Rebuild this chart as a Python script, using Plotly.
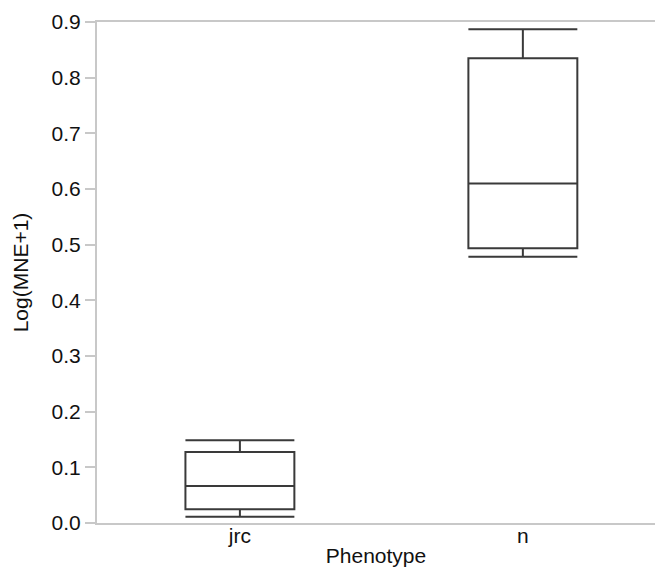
import plotly.graph_objects as go

categories = ["jrc", "n"]
lower_whisker = [0.0113, 0.4784]
q1_values = [0.0246, 0.4934]
medians = [0.0665, 0.610]
q3_values = [0.1275, 0.835]
upper_whisker = [0.1485, 0.887]
y_ticks = [0.0, 0.1, 0.2, 0.3, 0.4, 0.5, 0.6, 0.7, 0.8, 0.9]

fig = go.Figure()
fig.add_trace(go.Box(
    x=categories,
    q1=q1_values,
    median=medians,
    q3=q3_values,
    lowerfence=lower_whisker,
    upperfence=upper_whisker,
    width=0.385,
    whiskerwidth=1,
    fillcolor="rgba(255,255,255,0)",
    line=dict(color="#3a3a3a", width=2),
    boxpoints=False,
    showlegend=False,
    hoverinfo="skip",
))

axis_font = dict(family="Liberation Sans, Arial, Helvetica, sans-serif", size=21, color="#111111")

fig.update_layout(
    width=655,
    height=567,
    margin=dict(l=97, r=0, t=22, b=44, autoexpand=False),
    paper_bgcolor="white",
    plot_bgcolor="white",
    font=axis_font,
    xaxis=dict(
        type="category",
        range=[-0.505, 1.467],
        showline=True,
        linecolor="#c8c8c8",
        linewidth=2,
        mirror=True,
        ticks="",
        showgrid=False,
        zeroline=False,
        automargin=False,
        ticklabelstandoff=-7,
        tickfont=axis_font,
        title=dict(text="Phenotype", font=axis_font, standoff=3),
    ),
    yaxis=dict(
        range=[0, 0.9],
        tickvals=y_ticks,
        tickformat=".1f",
        showline=True,
        linecolor="#c8c8c8",
        linewidth=2,
        ticks="outside",
        ticklen=10,
        tickwidth=2,
        tickcolor="#c8c8c8",
        showgrid=False,
        zeroline=False,
        automargin=False,
        tickfont=axis_font,
        title=dict(text="Log(MNE+1)", font=axis_font, standoff=17),
    ),
)

fig.write_html(
    "out.html",
    config={"displayModeBar": False},
    post_script="document.body.style.margin='0';document.body.style.padding='0';document.body.style.overflow='hidden';",
)
